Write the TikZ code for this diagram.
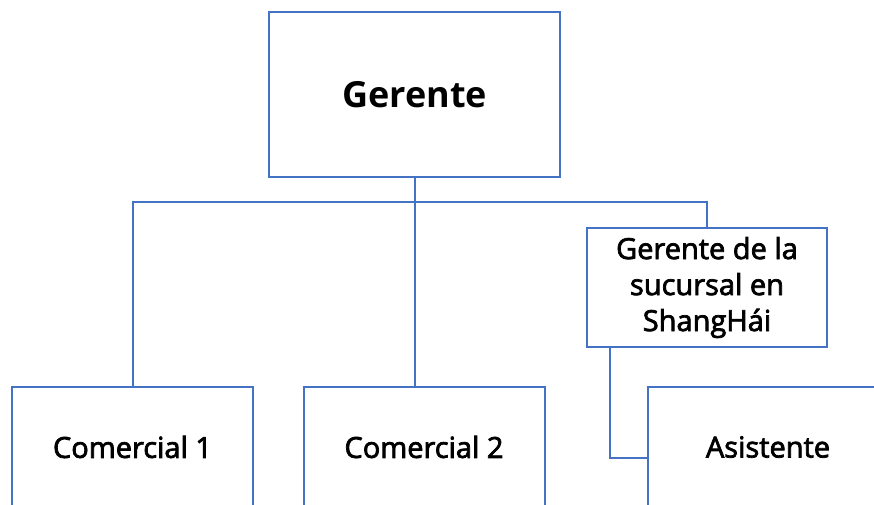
\documentclass[tikz,border=0pt]{standalone}
\usepackage{fontspec}
\setmainfont{Open Sans}
\newfontfamily\medfont{Open Sans}[FakeBold=2.5]
\usetikzlibrary{positioning,calc}
\definecolor{boxblue}{RGB}{68,114,196}

\begin{document}
\begin{tikzpicture}[x=1pt, y=-1pt,
			box/.style={draw=boxblue, line width=2pt, rectangle, fill=white, text=black, align=center, inner sep=0pt},
			bigbox/.style={box, minimum width=291pt, minimum height=165pt, font=\fontsize{36}{40}\selectfont\bfseries},
			smallbox/.style={box, minimum width=241pt, minimum height=120pt, font=\medfont\fontsize{29}{36}\selectfont},
			orgLine/.style={line width=2pt, -, color=boxblue}
			]
			\useasboundingbox (0,0) rectangle (874,504);
			\clip (0,0) rectangle (874,504);
			
			\node[bigbox](gerente) at (414.5,94.5) {Gerente};
			\node[smallbox, minimum width=240pt, minimum height=119pt](sucursal) at (707,287.5) {Gerente de la\\sucursal en\\ShangHái};
			\node[smallbox](com1) at (132.5,447) {Comercial 1};
			\node[smallbox](com2) at (424,447) {Comercial 2};
			\node[smallbox](asist) at (768,447) {Asistente};
			
			\coordinate (bus) at (414.5,202);
			
			\draw [orgLine] (gerente.south) -- (gerente.south |- com2.north);
			\draw [orgLine] (com1.north) |- (bus) -| (sucursal.north);
			\draw [orgLine] ([xshift=24pt]sucursal.south west) |- ([yshift=-11pt]asist.west);
			
\end{tikzpicture}
\end{document}
